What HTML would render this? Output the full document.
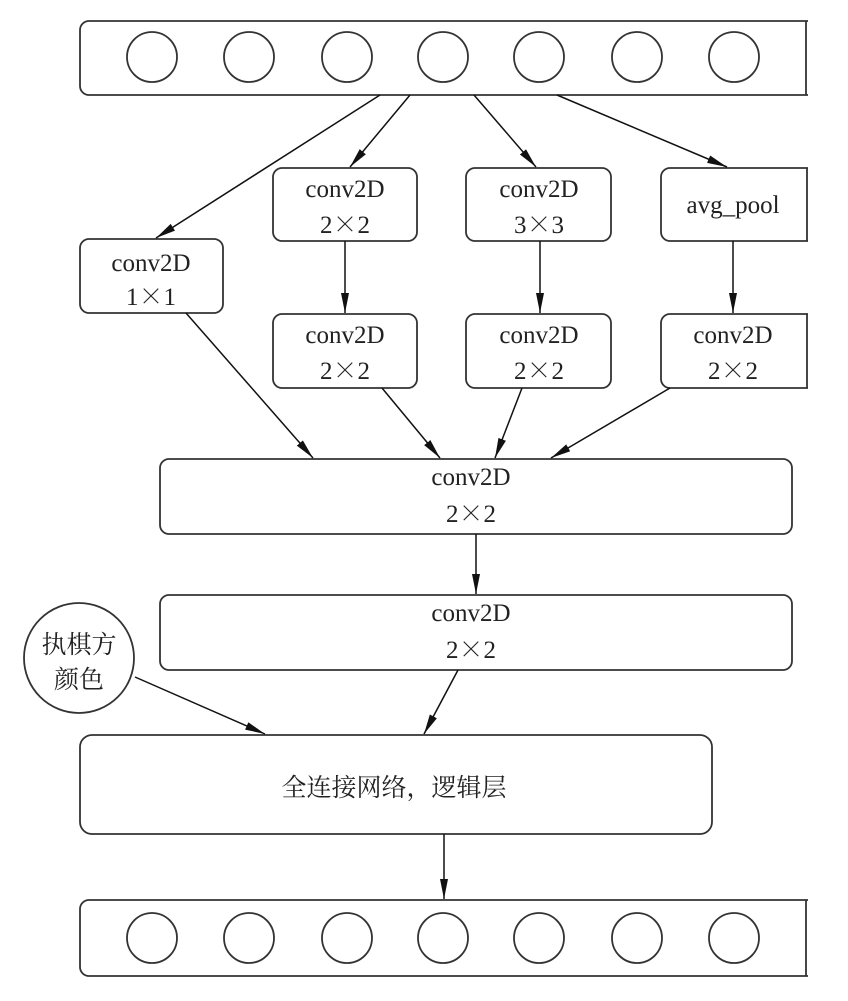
<!DOCTYPE html>
<html><head><meta charset="utf-8"><style>
html,body{margin:0;padding:0;background:#fff;}
svg{display:block}
text{font-family:"Liberation Serif","Noto Serif CJK SC",serif;fill:#222;font-size:25px;text-anchor:middle}
.cjk{font-family:"Noto Serif CJK SC","Noto Sans CJK SC",serif;}
.x{font-family:"Noto Serif CJK SC","Noto Sans CJK SC",serif;}
</style></head><body>
<svg width="848" height="1001" viewBox="0 0 848 1001" xmlns="http://www.w3.org/2000/svg">
<defs>
<marker id="b" viewBox="0 0 20 10" refX="20" refY="5" markerWidth="20" markerHeight="10" markerUnits="userSpaceOnUse" orient="auto">
<path d="M0,1 L20,5 L0,9 z" fill="#111"/></marker>
<clipPath id="c"><rect x="0" y="0" width="808" height="1001"/></clipPath>
</defs>
<g fill="none" stroke="#333" stroke-width="1.8" clip-path="url(#c)">
<rect x="80" y="21" width="740" height="74" rx="9"/>
<rect x="80" y="900" width="740" height="76" rx="9"/>
<rect x="80" y="239" width="143" height="74" rx="9"/>
<rect x="273" y="168" width="144" height="73" rx="9"/>
<rect x="466" y="168" width="145" height="73" rx="9"/>
<rect x="661" y="168" width="160" height="73" rx="9"/>
<rect x="273" y="314" width="144" height="74" rx="9"/>
<rect x="466" y="314" width="145" height="74" rx="9"/>
<rect x="661" y="314" width="160" height="74" rx="9"/>
<rect x="160" y="459" width="632" height="75" rx="9"/>
<rect x="160" y="595" width="632" height="75" rx="9"/>
<rect x="80" y="735" width="632" height="99" rx="12"/>
<circle cx="79" cy="658" r="55"/>
<line x1="806" y1="21" x2="806" y2="95"/>
<line x1="806" y1="900" x2="806" y2="976"/>
<line x1="807" y1="168" x2="807" y2="241"/>
<line x1="807" y1="314" x2="807" y2="388"/>
</g>
<g fill="none" stroke="#333" stroke-width="1.8">
<ellipse cx="152" cy="57" rx="25" ry="25"/><ellipse cx="249" cy="57" rx="25" ry="25"/><ellipse cx="347" cy="57" rx="25" ry="25"/><ellipse cx="443" cy="57" rx="25" ry="25"/><ellipse cx="539" cy="57" rx="25" ry="25"/><ellipse cx="637" cy="57" rx="25" ry="25"/><ellipse cx="734" cy="57" rx="25" ry="25"/>
<ellipse cx="152" cy="938" rx="25" ry="25"/><ellipse cx="249" cy="938" rx="25" ry="25"/><ellipse cx="347" cy="938" rx="25" ry="25"/><ellipse cx="443" cy="938" rx="25" ry="25"/><ellipse cx="539" cy="938" rx="25" ry="25"/><ellipse cx="637" cy="938" rx="25" ry="25"/><ellipse cx="734" cy="938" rx="25" ry="25"/>
</g>
<g stroke="#111" stroke-width="1.5" marker-end="url(#b)">
<line x1="380" y1="95" x2="156" y2="238"/>
<line x1="410" y1="95" x2="350" y2="167"/>
<line x1="474" y1="95" x2="536" y2="167"/>
<line x1="557" y1="95" x2="727" y2="167"/>
<line x1="345" y1="241" x2="345" y2="313"/>
<line x1="540" y1="241" x2="540" y2="313"/>
<line x1="733" y1="241" x2="733" y2="313"/>
<line x1="186" y1="313" x2="313" y2="458"/>
<line x1="382" y1="388" x2="440" y2="458"/>
<line x1="522" y1="388" x2="495" y2="458"/>
<line x1="670" y1="388" x2="551" y2="458"/>
<line x1="476" y1="534" x2="476" y2="594"/>
<line x1="135" y1="677" x2="265" y2="734"/>
<line x1="458" y1="670" x2="424" y2="734"/>
<line x1="444" y1="834" x2="444" y2="899"/>
</g>
<text x="151" y="271">conv2D</text><text x="151" y="305">1<tspan class="x">×</tspan>1</text>
<text x="345" y="197">conv2D</text><text x="345" y="233">2<tspan class="x">×</tspan>2</text>
<text x="539" y="197">conv2D</text><text x="539" y="233">3<tspan class="x">×</tspan>3</text>
<text x="733" y="213">avg_pool</text>
<text x="345" y="343">conv2D</text><text x="345" y="379">2<tspan class="x">×</tspan>2</text>
<text x="539" y="343">conv2D</text><text x="539" y="379">2<tspan class="x">×</tspan>2</text>
<text x="733" y="343">conv2D</text><text x="733" y="379">2<tspan class="x">×</tspan>2</text>
<text x="471" y="485">conv2D</text><text x="471" y="522">2<tspan class="x">×</tspan>2</text>
<text x="471" y="621">conv2D</text><text x="471" y="658">2<tspan class="x">×</tspan>2</text>
<text class="cjk" x="394" y="796" font-size="27">全连接网络，逻辑层</text>
<text class="cjk" x="79" y="653" font-size="26">执棋方</text>
<text class="cjk" x="79" y="688" font-size="26">颜色</text>
</svg>
</body></html>
